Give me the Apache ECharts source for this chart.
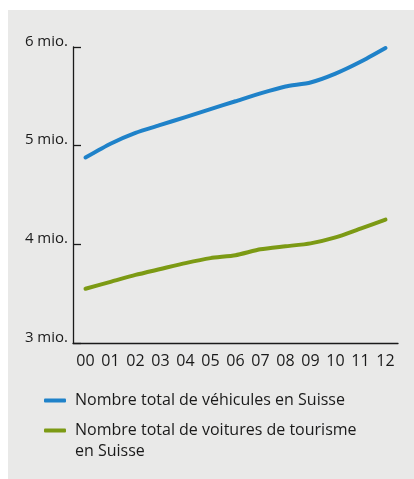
<!DOCTYPE html>
<html><head><meta charset="utf-8">
<script src="https://cdn.jsdelivr.net/npm/echarts@6/dist/echarts.min.js"></script>
<style>html,body{margin:0;padding:0;background:#fff}#c{width:414px;height:479px}</style>
</head><body><div id="c"></div>
<script>
var years = ['00','01','02','03','04','05','06','07','08','09','10','11','12'];
var yTicks = [3, 4, 5, 6];
var vehicules = [4.88, 5.02, 5.13, 5.21, 5.29, 5.37, 5.45, 5.53, 5.60, 5.64, 5.73, 5.85, 5.99];
var voitures = [3.55, 3.62, 3.69, 3.75, 3.81, 3.86, 3.89, 3.95, 3.98, 4.01, 4.07, 4.16, 4.25];
var nameA = 'Nombre total de véhicules en Suisse';
var nameB = 'Nombre total de voitures de tourisme\nen Suisse';

var font = '"Open Sans", sans-serif';
var chart = echarts.init(document.getElementById('c'), null, {renderer: 'canvas'});
chart.setOption({
  animation: false,
  backgroundColor: '#ffffff',
  graphic: [{type: 'rect', left: 8, top: 10, z: -10, shape: {width: 406, height: 469}, style: {fill: '#e9e9e8'}}],
  grid: {left: 73, right: 16, top: 47, bottom: 136},
  xAxis: {
    type: 'category', data: years, boundaryGap: true,
    axisLine: {lineStyle: {color: '#1a1a1a', width: 1.3}},
    axisTick: {inside: true, length: 7, lineStyle: {color: '#1a1a1a', width: 1.3}},
    axisLabel: {color: '#1a1a1a', fontFamily: font, fontSize: 16, margin: 10}
  },
  yAxis: {
    type: 'value', min: yTicks[0], max: yTicks[yTicks.length - 1], interval: 1,
    splitLine: {show: false},
    axisLine: {show: true, lineStyle: {color: '#1a1a1a', width: 1.3}},
    axisTick: {show: true, inside: true, length: 8, lineStyle: {color: '#1a1a1a', width: 1.3}},
    axisLabel: {color: '#1a1a1a', fontFamily: font, fontSize: 15, margin: 5, verticalAlign: 'bottom', lineHeight: 11,
      formatter: function (v) { return v + ' mio.'; }}
  },
  legend: {
    orient: 'vertical', left: 44, top: 390, height: 300, padding: 0, itemWidth: 22, itemHeight: 4, itemGap: -12,
    icon: 'roundRect',
    data: [nameA, nameB],
    formatter: function (n) { return n.indexOf('\n') >= 0 ? '\n' + n : n; },
    textStyle: {color: '#1a1a1a', fontFamily: font, fontSize: 16, lineHeight: 21, padding: [0, 0, 0, 4]}
  },
  series: [
    {name: nameA, type: 'line', data: vehicules, symbol: 'none', smooth: 0.2,
     lineStyle: {color: '#1f82c9', width: 4, cap: 'round'}, itemStyle: {color: '#1f82c9'}},
    {name: nameB, type: 'line', data: voitures, symbol: 'none', smooth: 0.2,
     lineStyle: {color: '#7c9a14', width: 4, cap: 'round'}, itemStyle: {color: '#7c9a14'}}
  ]
});
</script></body></html>
